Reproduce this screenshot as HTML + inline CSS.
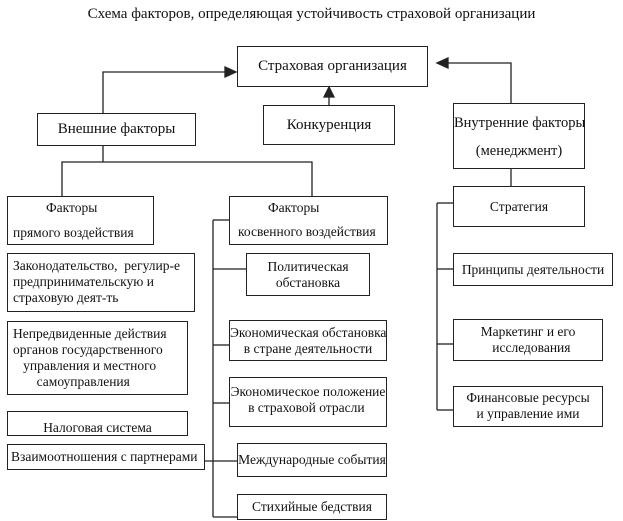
<!DOCTYPE html>
<html><head><meta charset="utf-8"><style>
body{margin:0;width:623px;height:521px;background:#fff;position:relative;overflow:hidden;font-family:"Liberation Serif","Noto Serif CJK SC",serif;color:#111}
.b{position:absolute;border:1.3px solid #222;box-sizing:border-box;font-size:13.5px;line-height:16px;white-space:nowrap}
.t{position:absolute;white-space:nowrap}
svg{position:absolute;left:0;top:0}
</style></head><body>
<svg width="623" height="521" stroke="#222" stroke-width="1.3" fill="none">
<polyline points="103,113 103,72 226,72"/><polygon points="236,72 225,67 225,77" fill="#222"/>
<line x1="329" y1="105" x2="329" y2="96"/><polygon points="329,87 324,97 334,97" fill="#222"/>
<polyline points="511,103 511,63 446,63"/><polygon points="437,63 448,58 448,68" fill="#222"/>
<line x1="103" y1="146" x2="103" y2="162"/>
<polyline points="62,196 62,162 312,162 312,196"/>
<line x1="511" y1="169" x2="511" y2="186"/>
<line x1="437" y1="203" x2="437" y2="410"/>
<line x1="437" y1="203" x2="453" y2="203"/>
<line x1="437" y1="269" x2="453" y2="269"/>
<line x1="437" y1="344" x2="453" y2="344"/>
<line x1="437" y1="410" x2="453" y2="410"/>
<line x1="213" y1="220" x2="213" y2="517"/>
<line x1="213" y1="220" x2="229" y2="220"/>
<line x1="213" y1="269" x2="246" y2="269"/>
<line x1="213" y1="345" x2="229" y2="345"/>
<line x1="213" y1="403" x2="229" y2="403"/>
<line x1="205" y1="461" x2="237" y2="461"/>
<line x1="213" y1="517" x2="237" y2="517"/>
</svg>
<div class="t" style="left:0;width:623px;text-align:center;top:6px;font-size:15px">Схема факторов, определяющая устойчивость страховой организации</div>
<div class="b" style="left:237px;top:46px;width:191px;height:41px;font-size:15px;text-align:center;line-height:39px">Страховая организация</div>
<div class="b" style="left:37px;top:113px;width:159px;height:33px;font-size:15px;text-align:center;line-height:31px">Внешние факторы</div>
<div class="b" style="left:263px;top:105px;width:132px;height:40px;font-size:15px;text-align:center;line-height:38px">Конкуренция</div>
<div class="b" style="left:453px;top:103px;width:132px;height:66px;font-size:14.5px;text-align:center;line-height:28px;padding-top:5px">Внутренние факторы<br>(менеджмент)</div>
<div class="b" style="left:453px;top:186px;width:132px;height:41px;text-align:center;line-height:39px">Стратегия</div>
<div class="b" style="left:453px;top:253px;width:160px;height:33px;text-align:center;line-height:31px">Принципы деятельности</div>
<div class="b" style="left:453px;top:319px;width:150px;height:42px;text-align:center;padding-top:4px">Маркетинг и его<br>&nbsp;&nbsp;исследования</div>
<div class="b" style="left:453px;top:386px;width:150px;height:41px;text-align:center;padding-top:3px">Финансовые ресурсы<br>и управление ими</div>
<div class="b" style="left:7px;top:196px;width:147px;height:49px"><span class="t" style="left:38px;top:3px">Факторы</span><span class="t" style="left:5px;top:28px">прямого воздействия</span></div>
<div class="b" style="left:7px;top:253px;width:188px;height:59px;padding:4px 0 0 5px">Законодательство,&nbsp; регулир-е<br>предпринимательскую и<br>страховую деят-ть</div>
<div class="b" style="left:7px;top:321px;width:181px;height:74px;padding:4px 0 0 5px">Непредвиденные действия<br>органов государственного<br>&nbsp;&nbsp;&nbsp;управления и местного<br>&nbsp;&nbsp;&nbsp;&nbsp;&nbsp;&nbsp;&nbsp;самоуправления</div>
<div class="b" style="left:7px;top:411px;width:181px;height:25px;text-align:center;line-height:31px">Налоговая система</div>
<div class="b" style="left:7px;top:444px;width:198px;height:26px;line-height:24px;padding-left:3px">Взаимоотношения с партнерами</div>
<div class="b" style="left:229px;top:196px;width:159px;height:49px"><span class="t" style="left:38px;top:3px">Факторы</span><span class="t" style="left:8px;top:27px">косвенного воздействия</span></div>
<div class="b" style="left:246px;top:253px;width:124px;height:43px;text-align:center;padding-top:5px">Политическая<br>обстановка</div>
<div class="b" style="left:229px;top:320px;width:158px;height:41px;text-align:center;padding-top:4px">Экономическая обстановка<br>в стране деятельности</div>
<div class="b" style="left:229px;top:377px;width:158px;height:50px;text-align:center;padding-top:6px">Экономическое положение<br>&nbsp;в страховой отрасли&nbsp;&nbsp;</div>
<div class="b" style="left:237px;top:443px;width:150px;height:34px;text-align:center;line-height:32px">Международные события</div>
<div class="b" style="left:237px;top:494px;width:150px;height:26px;text-align:center;line-height:24px">Стихийные бедствия</div>
</body></html>
